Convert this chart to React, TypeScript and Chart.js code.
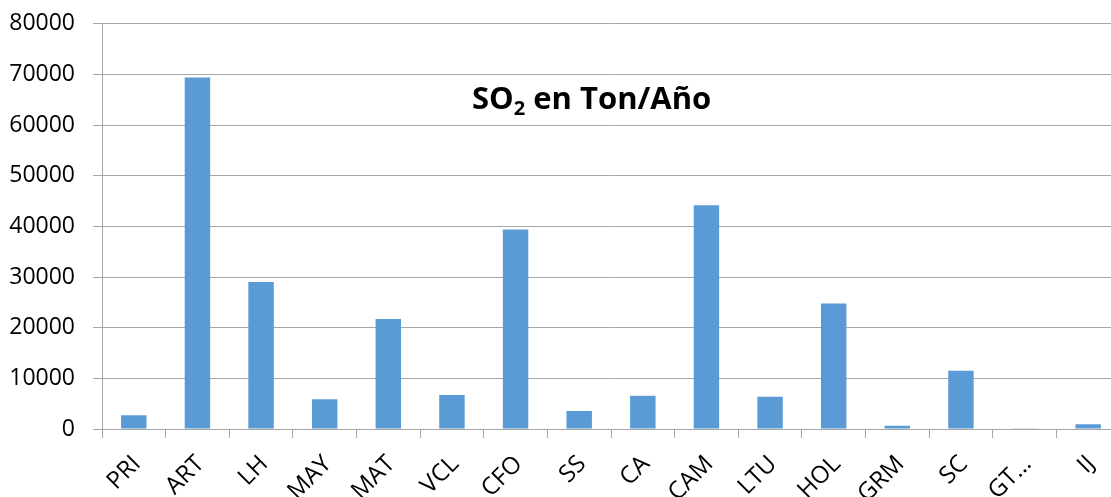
import React, { useEffect, useRef } from "react";
import { Chart, registerables } from "chart.js";

Chart.register(...registerables);

// Annual SO2 emissions per source (tonnes/year)
const categories = ["PRI", "ART", "LH", "MAY", "MAT", "VCL", "CFO", "SS", "CA", "CAM", "LTU", "HOL", "GRM", "SC", "GT…", "IJ"];
const so2Values = [2700, 69400, 29000, 5850, 21700, 6700, 39400, 3550, 6550, 44200, 6370, 24800, 650, 11500, 150, 930];
const yTickMax = 80000;
const yTickStep = 10000;

const AXIS_GRAY = "#a6a6a6";
const FONT = "'Open Sans', sans-serif";

// Title with a subscript "2", drawn over the plot area
const titlePlugin = {
  id: "so2Title",
  afterDraw(chart: Chart) {
    const { ctx, chartArea } = chart;
    const big = `bold 31px ${FONT}`;
    const small = `bold 20px ${FONT}`;
    const parts = [
      { t: "SO", f: big, dy: 0 },
      { t: "2", f: small, dy: 6 },
      { t: " en Ton/Año", f: big, dy: 0 },
    ];
    ctx.save();
    ctx.fillStyle = "#000";
    ctx.textBaseline = "alphabetic";
    ctx.textAlign = "left";
    let total = 0;
    for (const p of parts) {
      ctx.font = p.f;
      total += ctx.measureText(p.t).width;
    }
    const cx = chartArea.left + (chartArea.right - chartArea.left) * 0.481;
    const baseY = chartArea.top + 85;
    let x = cx - total / 2;
    for (const p of parts) {
      ctx.font = p.f;
      ctx.fillText(p.t, x, baseY + p.dy);
      x += ctx.measureText(p.t).width;
    }
    ctx.restore();
  },
};

export default function App() {
  const canvasRef = useRef<HTMLCanvasElement | null>(null);

  useEffect(() => {
    if (!canvasRef.current) return;
    const chart = new Chart(canvasRef.current, {
      type: "bar",
      data: {
        labels: categories,
        datasets: [
          {
            label: "SO2",
            data: so2Values,
            backgroundColor: "#5b9bd5",
            borderWidth: 0,
            barPercentage: 0.4,
            categoryPercentage: 1,
          },
        ],
      },
      options: {
        animation: false,
        responsive: false,
        maintainAspectRatio: false,
        layout: { padding: { top: 15, right: 5, left: 0, bottom: 0 } },
        plugins: {
          legend: { display: false },
          title: { display: false },
          tooltip: { enabled: false },
        },
        scales: {
          x: {
            grid: {
              display: true,
              drawOnChartArea: false,
              drawTicks: true,
              tickLength: 9,
              color: AXIS_GRAY,
              offset: true,
            },
            border: { color: AXIS_GRAY, width: 1 },
            ticks: {
              color: "#000",
              font: { family: FONT, size: 24 },
              minRotation: 45,
              maxRotation: 45,
              autoSkip: false,
              padding: 12,
              labelOffset: 3,
            },
            afterFit(scale: any) {
              scale.height = 68;
            },
          },
          y: {
            min: 0,
            max: yTickMax,
            grid: { color: AXIS_GRAY, tickLength: 9, lineWidth: 1 },
            border: { color: AXIS_GRAY, width: 1 },
            ticks: {
              stepSize: yTickStep,
              color: "#000",
              font: { family: FONT, size: 23 },
              padding: 18,
              callback: (v: any) => String(v),
            },
            afterFit(scale: any) {
              scale.width = 102;
            },
          },
        },
      },
      plugins: [titlePlugin],
    });
    return () => chart.destroy();
  }, []);

  return (
    <div style={{ position: "absolute", left: 0, top: 0, width: 1111, height: 497, overflow: "hidden", background: "#fff" }}>
      <canvas ref={canvasRef} width={1125} height={505} style={{ display: "block", marginTop: -8 }} />
    </div>
  );
}
